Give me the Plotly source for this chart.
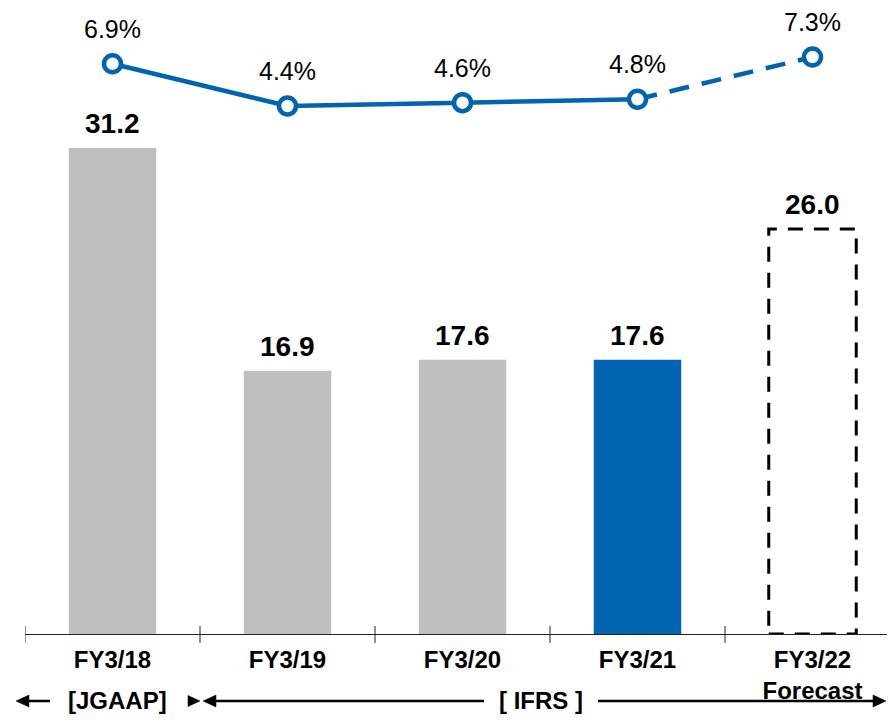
import plotly.graph_objects as go

# ---------------- data ----------------
categories = ["FY3/18", "FY3/19", "FY3/20", "FY3/21", "FY3/22<br>Forecast"]
bar_values = [31.2, 16.9, 17.6, 17.6, 26.0]
bar_labels = ["31.2", "16.9", "17.6", "17.6", "26.0"]
pct_values = [6.9, 4.4, 4.6, 4.8, 7.3]
pct_labels = ["6.9%", "4.4%", "4.6%", "4.8%", "7.3%"]
bottom_labels = ["[JGAAP]", "[ IFRS ]"]

# ---------------- style ----------------
OFF = 8                      # page body margin (page must fit the window)
W, H = 895 - 2 * OFF, 724 - 2 * OFF
ML, MR, MT = 25 - OFF, 0, 0
AXIS_SY = 634               # screen y of the axis line
MB = H - (AXIS_SY - OFF)
GRAY = "#BFBFBF"
BLUE = "#0064B0"
FONT = "Liberation Sans, Arial, sans-serif"
PW = W - ML - MR
PH = H - MT - MB
CAT_PX = 175.0
Y_PX_PER_UNIT = 15.58
Y2_PX_PER_UNIT = 16.9

bar_colors = [GRAY, GRAY, GRAY, BLUE, "rgba(0,0,0,0)"]
idx = list(range(len(categories)))


def px_x(sx):
    return (sx - OFF - ML) / PW


def px_y(sy):
    return (AXIS_SY - sy) / PH


fig = go.Figure()

fig.add_trace(go.Bar(
    x=idx, y=bar_values, marker=dict(color=bar_colors, line=dict(width=0)),
    width=0.5, hoverinfo="skip", showlegend=False,
))

fig.add_trace(go.Scatter(
    x=idx[:4], y=pct_values[:4], yaxis="y2", mode="lines",
    line=dict(color=BLUE, width=4.5), showlegend=False, hoverinfo="skip",
))
fig.add_trace(go.Scatter(
    x=idx[3:], y=pct_values[3:], yaxis="y2", mode="lines",
    line=dict(color=BLUE, width=4.5, dash="20px,13px"), showlegend=False, hoverinfo="skip",
))
fig.add_trace(go.Scatter(
    x=idx, y=pct_values, yaxis="y2", mode="markers",
    marker=dict(size=17, color="white", line=dict(color=BLUE, width=4.5)),
    showlegend=False, hoverinfo="skip",
))

annotations = []
for i, (v, t) in enumerate(zip(bar_values, bar_labels)):
    annotations.append(dict(x=i, y=v, xref="x", yref="y", text=t, showarrow=False,
                            yshift=24, yanchor="middle",
                            font=dict(family=FONT, size=28, color="black", weight="bold")))
for i, (v, t) in enumerate(zip(pct_values, pct_labels)):
    annotations.append(dict(x=i, y=v, xref="x", yref="y2", text=t, showarrow=False,
                            yshift=35, yanchor="middle",
                            font=dict(family=FONT, size=25, color="black")))

AY = 701
annotations.append(dict(x=px_x(117), y=px_y(AY - 1), xref="paper", yref="paper",
                        text="<b>%s</b>" % bottom_labels[0], showarrow=False,
                        xanchor="center", yanchor="middle",
                        font=dict(family=FONT, size=24, color="black")))
annotations.append(dict(x=px_x(541), y=px_y(AY - 1), xref="paper", yref="paper",
                        text="<b>%s</b>" % bottom_labels[1], showarrow=False,
                        xanchor="center", yanchor="middle",
                        font=dict(family=FONT, size=24, color="black")))

shapes = []
shapes.append(dict(type="rect", xref="x", yref="y", x0=idx[4] - 0.25, x1=idx[4] + 0.25,
                   y0=0, y1=bar_values[4],
                   line=dict(color="black", width=3, dash="15px,11px"),
                   fillcolor="rgba(0,0,0,0)", layer="above"))
for i in range(len(categories)):
    shapes.append(dict(type="line", xref="x", yref="paper", x0=i - 0.5, x1=i - 0.5,
                       y0=px_y(643), y1=px_y(626), line=dict(color="#222", width=1)))


def hline(a, b, w=2.5):
    return dict(type="line", xref="paper", yref="paper", x0=px_x(a), x1=px_x(b),
                y0=px_y(AY), y1=px_y(AY), line=dict(color="black", width=w))


def tri(tip, base, half=6):
    path = "M %f %f L %f %f L %f %f Z" % (
        px_x(tip), px_y(AY), px_x(base), px_y(AY - half), px_x(base), px_y(AY + half))
    return dict(type="path", xref="paper", yref="paper", path=path,
                fillcolor="black", line=dict(color="black", width=0.5))


shapes += [
    hline(26, 50), tri(16, 29),
    tri(200, 188, 5.5),
    tri(203, 216, 6), hline(214, 484),
    hline(598, 876), tri(886, 873, 6),
]

y_top = PH / Y_PX_PER_UNIT
y2_top = pct_values[4] + (57 - OFF) / Y2_PX_PER_UNIT

fig.update_layout(
    width=W, height=H,
    margin=dict(l=ML, r=MR, t=MT, b=MB, pad=0),
    paper_bgcolor="white", plot_bgcolor="white",
    font=dict(family=FONT, color="black"),
    showlegend=False,
    xaxis=dict(
        tickmode="array", tickvals=idx, ticktext=categories,
        range=[-0.5, -0.5 + PW / CAT_PX],
        showgrid=False, zeroline=False,
        showline=True, linecolor="#222", linewidth=1,
        ticks="outside", ticklen=4, tickcolor="rgba(0,0,0,0)",
        tickfont=dict(family=FONT, size=24, color="black", weight="bold"),
    ),
    yaxis=dict(range=[0, y_top], visible=False, showgrid=False, zeroline=False),
    yaxis2=dict(range=[y2_top - PH / Y2_PX_PER_UNIT, y2_top], overlaying="y",
                visible=False, showgrid=False, zeroline=False),
    annotations=annotations,
    shapes=shapes,
)

fig.write_html("out.html")
